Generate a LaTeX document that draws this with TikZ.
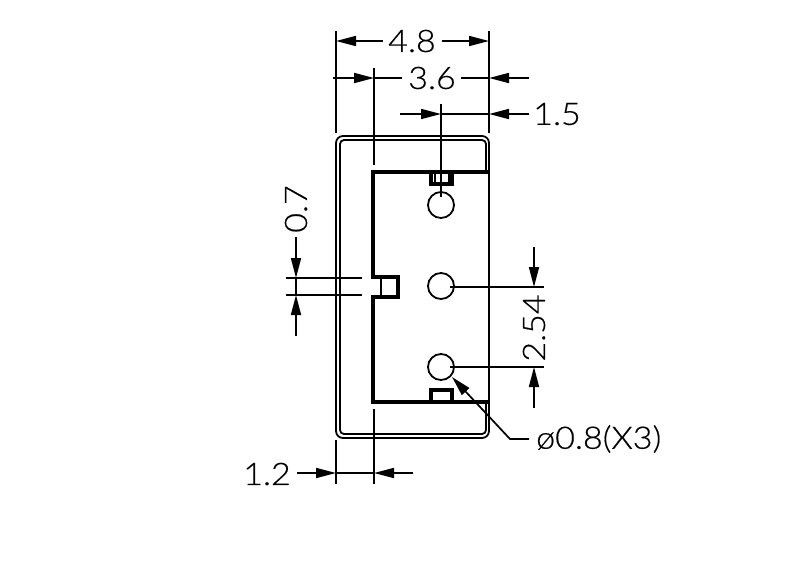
\documentclass[tikz,border=0pt]{standalone}
\usepackage{fontspec}
\setmainfont[FakeStretch=1.1,FakeBold=0.4]{Lato Light}
\usetikzlibrary{arrows.meta}

\begin{document}
\begin{tikzpicture}
[x=1pt,y=-1pt,
	dim line/.style={line width=1.7pt,-{Triangle[length=20pt,width=10pt]}},
	ext line/.style={line width=1.7pt},
	shell/.style={line width=1.8pt,rounded corners=#1},
	wall/.style={line width=3.2pt,line cap=rect},
	wall thin/.style={line width=1.8pt},
	pin/.style={circle,draw,line width=1.8pt,minimum size=26pt,inner sep=0pt},
	label/.style={font=\fontsize{31}{31}\selectfont,inner sep=0pt}]
\useasboundingbox (0,0) rectangle (800,576);

% housing
\draw[shell=7pt] (336,136) rectangle (489,438);
\draw[shell=4pt] (340,172) -- (340,140) -- (486,140) -- (486,172);
\draw[shell=4pt] (486,402) -- (486,434) -- (340,434) -- (340,402);
\draw[wall thin] (340,172) -- (340,402);

% cavity with the three keys
\draw[wall] (488,172) -- (373,172) -- (373,277);
\draw[wall] (373,297) -- (373,402) -- (488,402);
\draw[wall] (373,277) -- (398,277) -- (398,297) -- (373,297);
\draw[wall thin] (381,277) -- (381,297);
\draw[wall thin] (489,172) -- (489,402);
\draw[wall] (431,172) -- (431,184) -- (452,184) -- (452,172);
\draw[wall thin] (435,172) -- (435,182) (449,172) -- (449,182);
\draw[wall] (431,402) -- (431,390) -- (452,390) -- (452,402);

% pins
\node (pinA) [pin] at (441,205) {};
\node (pinB) [pin] at (441,286) {};
\node (pinC) [pin] at (441,367) {};

% 4.8
\node (wTotal) [label] at (412,41) {4.8};
\draw[ext line] (336,31) -- (336,133) (489,31) -- (489,133);
\draw[dim line] (383,41) -- (336,41);
\draw[dim line] (442,41) -- (489,41);

% 3.6
\node (wCavity) [label] at (432,78) {3.6};
\draw[ext line] (374,68) -- (374,165);
\draw[ext line] (402,78) -- (374,78);
\draw[dim line] (333,78) -- (374,78);
\draw[ext line] (461,78) -- (489,78);
\draw[dim line] (529,78) -- (489,78);

% 1.5
\node (wPin) [label] at (557,114) {1.5};
\draw[ext line] (441,104) -- (441,197) (441,114) -- (489,114);
\draw[dim line] (400,114) -- (441,114);
\draw[dim line] (529,114) -- (489,114);

% 0.7
\node (hKey) [label,rotate=90] at (296,209) {0.7};
\draw[ext line] (286,278) -- (362,278) (286,295) -- (362,295) (296,278) -- (296,295);
\draw[dim line] (296,237) -- (296,278);
\draw[dim line] (296,336) -- (296,295);

% 2.54
\node (hPitch) [label,rotate=90] at (534,328) {2.54};
\draw[ext line] (450,287) -- (544,287) (450,367) -- (544,367);
\draw[dim line] (534,247) -- (534,287);
\draw[dim line] (534,408) -- (534,367);

% 1.2
\node (wWall) [label] at (267,474) {1.2};
\draw[ext line] (336,440) -- (336,484) (374,409) -- (374,484) (336,473) -- (374,473);
\draw[dim line] (297,473) -- (336,473);
\draw[dim line] (413,473) -- (374,473);

% pin diameter
\node (dPin) [label,anchor=west] at (536,439) {ø0.8(X3)};
\draw[dim line] (529,439) -- (510,439) -- (452,377);
\end{tikzpicture}
\end{document}
